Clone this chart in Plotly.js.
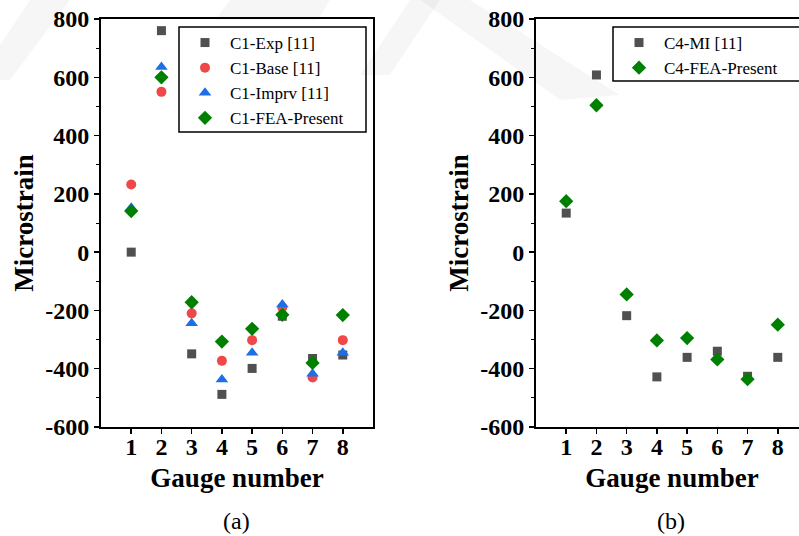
<!DOCTYPE html>
<html>
<head>
<meta charset="utf-8">
<script src="https://cdn.plot.ly/plotly-3.0.1.min.js"></script>
<style>
html,body{margin:0;padding:0;overflow:hidden;background:#fff;width:799px;height:536px;}
#chart{width:820px;height:536px;}
</style>
</head>
<body>
<div id="chart"></div>
<script>
// Data
const gauges = [1, 2, 3, 4, 5, 6, 7, 8];
const c1Exp   = [0, 760, -349, -488, -399, -220, -365, -353];
const c1Base  = [232, 550, -210, -373, -302, -190, -430, -302];
const c1Imprv = [152, 635, -244, -437, -345, -180, -417, -345];
const c1FEA   = [141, 600, -172, -307, -263, -215, -380, -216];
const c4MI    = [134, 608, -218, -428, -361, -340, -426, -361];
const c4FEA   = [175, 504, -145, -303, -295, -368, -436, -249];
const xTicks = [1, 2, 3, 4, 5, 6, 7, 8];
const yTicks = [-600, -400, -200, 0, 200, 400, 600, 800];

const W = 820, H = 536;
const px = v => v / W;
const py = v => 1 - v / H;

const serif = "Liberation Serif";
const colGray = "#505050", colRed = "#f04848", colBlue = "#1e6fe6", colGreen = "#008000";

function tr(x, y, name, color, symbol, size, xa, ya, leg) {
  return {x: x, y: y, name: name, type: "scatter", mode: "markers",
    xaxis: xa, yaxis: ya, legend: leg,
    marker: {color: color, symbol: symbol, size: size, line: {width: 0}}};
}

const data = [
  tr(gauges, c1Exp, "C1-Exp [11]", colGray, "square", 9, "x", "y", "legend"),
  tr(gauges, c1Base, "C1-Base [11]", colRed, "circle", 10, "x", "y", "legend"),
  tr(gauges, c1Imprv, "C1-Imprv [11]", colBlue, "triangle-up", 11, "x", "y", "legend"),
  tr(gauges, c1FEA, "C1-FEA-Present", colGreen, "diamond", 11, "x", "y", "legend"),
  tr(gauges, c4MI, "C4-MI [11]", colGray, "square", 9, "x2", "y2", "legend2"),
  tr(gauges, c4FEA, "C4-FEA-Present", colGreen, "diamond", 11, "x2", "y2", "legend2")
];

function xax(domain, anchor) {
  return {domain: domain, anchor: anchor, range: [0, 9], tickvals: xTicks, ticktext: xTicks.map(String),
    showgrid: false, zeroline: false, showline: true, linecolor: "#000", linewidth: 2, mirror: true,
    ticks: "outside", ticklen: 5, tickwidth: 1.5, tickcolor: "#000", ticklabelstandoff: -8,
    tickfont: {family: serif, size: 24, color: "#000", weight: "bold"},
    title: {text: "<b>Gauge number</b>", font: {family: serif, size: 27, color: "#000"}, standoff: 9},
    fixedrange: true};
}
function yax(domain, anchor) {
  return {domain: domain, anchor: anchor, range: [-600, 800], tickvals: yTicks,
    ticktext: yTicks.map(String),
    showgrid: false, zeroline: false, showline: true, linecolor: "#000", linewidth: 2, mirror: true,
    ticks: "outside", ticklen: 5, tickwidth: 1.5, tickcolor: "#000",
    minor: {tickvals: [-500, -300, -100, 100, 300, 500, 700], ticklen: 3, tickwidth: 1, tickcolor: "#000", ticks: "outside"},
    tickfont: {family: serif, size: 24, color: "#000", weight: "bold"},
    title: {text: "<b>Microstrain</b>", font: {family: serif, size: 27, color: "#000"}, standoff: 4},
    fixedrange: true};
}

const wm = "rgba(0,0,0,0.035)";
const shapes = [
  {type: "path", xref: "paper", yref: "paper", layer: "below", line: {width: 0}, fillcolor: wm,
   path: `M ${px(0)} ${py(45)} L ${px(30)} ${py(0)} L ${px(70)} ${py(0)} L ${px(10)} ${py(80)} L ${px(0)} ${py(80)} Z`},
  {type: "path", xref: "paper", yref: "paper", layer: "below", line: {width: 0}, fillcolor: wm,
   path: `M ${px(215)} ${py(20)} L ${px(230)} ${py(0)} L ${px(330)} ${py(0)} L ${px(318)} ${py(20)} Z`},
  {type: "path", xref: "paper", yref: "paper", layer: "below", line: {width: 0}, fillcolor: wm,
   path: `M ${px(360)} ${py(75)} L ${px(410)} ${py(0)} L ${px(440)} ${py(0)} L ${px(390)} ${py(75)} Z`},
  {type: "path", xref: "paper", yref: "paper", layer: "below", line: {width: 0}, fillcolor: wm,
   path: `M ${px(420)} ${py(0)} L ${px(470)} ${py(0)} L ${px(620)} ${py(95)} L ${px(560)} ${py(100)} Z`},
  // legend frames
  {type: "rect", xref: "paper", yref: "paper", layer: "above", line: {width: 1.5, color: "#000"},
   x0: px(179), x1: px(366), y0: py(132), y1: py(27)},
  {type: "rect", xref: "paper", yref: "paper", layer: "above", line: {width: 1.5, color: "#000"},
   x0: px(613), x1: px(830), y0: py(81), y1: py(27)}
];

const layout = {
  width: W, height: H,
  margin: {l: 0, r: 0, t: 0, b: 0},
  paper_bgcolor: "#fff", plot_bgcolor: "rgba(0,0,0,0)",
  font: {family: serif, color: "#000"},
  xaxis: xax([px(101), px(373)], "y"),
  yaxis: yax([py(427), py(19)], "x"),
  xaxis2: xax([px(536), px(808)], "y2"),
  yaxis2: yax([py(427), py(19)], "x2"),
  legend: {x: px(180), y: py(25), xanchor: "left", yanchor: "top", bgcolor: "rgba(255,255,255,0)",
    borderwidth: 0, itemwidth: 40,
    font: {family: serif, size: 17, color: "#000"}},
  legend2: {x: px(614), y: py(25), xanchor: "left", yanchor: "top", bgcolor: "rgba(255,255,255,0)",
    borderwidth: 0, itemwidth: 40,
    font: {family: serif, size: 17, color: "#000"}},
  showlegend: true,
  shapes: shapes,
  annotations: [
    {text: "(a)", xref: "paper", yref: "paper", x: px(237), y: py(521), xanchor: "center", yanchor: "middle",
     showarrow: false, font: {family: serif, size: 24, color: "#000"}},
    {text: "(b)", xref: "paper", yref: "paper", x: px(671), y: py(521), xanchor: "center", yanchor: "middle",
     showarrow: false, font: {family: serif, size: 24, color: "#000"}}
  ]
};

Plotly.newPlot("chart", data, layout, {displayModeBar: false, staticPlot: true});
</script>
</body>
</html>
